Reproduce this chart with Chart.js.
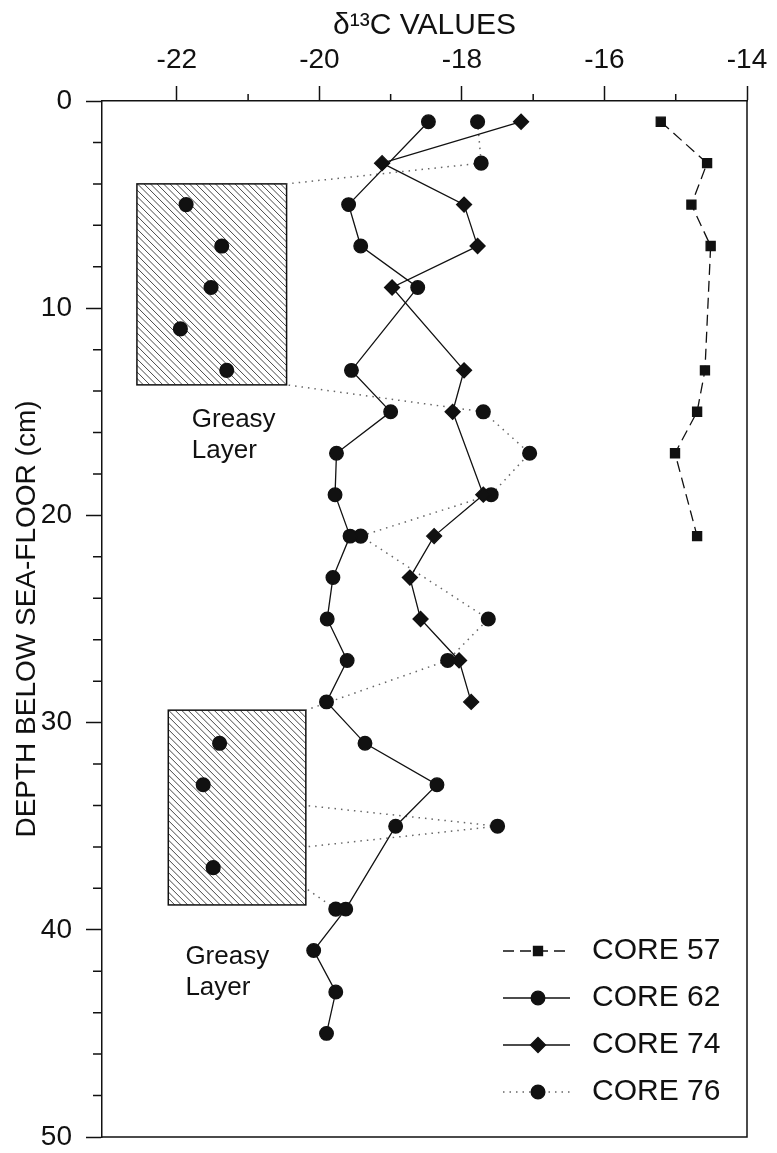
<!DOCTYPE html>
<html>
<head>
<meta charset="utf-8">
<script src="https://cdn.jsdelivr.net/npm/chart.js@4.4.1/dist/chart.umd.min.js"></script>
<style>
  html, body { margin: 0; padding: 0; background: #fff; }
  #wrap { width: 777px; height: 1153px; }
</style>
</head>
<body>
<div id="wrap"><canvas id="myChart" width="777" height="1153"></canvas></div>
<script>
// depth (cm) and delta13C readings for each core
const depths57 = [1, 3, 5, 7, 13, 15, 17, 21];
const core57 = [-15.21, -14.56, -14.78, -14.51, -14.59, -14.70, -15.01, -14.70];

const depths62 = [1, 5, 7, 9, 13, 15, 17, 19, 21, 23, 25, 27, 29, 31, 33, 35, 39, 41, 43, 45];
const core62 = [-18.47, -19.59, -19.42, -18.62, -19.55, -19.00, -19.76, -19.78, -19.57, -19.81,
  -19.89, -19.61, -19.90, -19.36, -18.35, -18.93, -19.63, -20.08, -19.77, -19.90];

const depths74 = [1, 3, 5, 7, 9, 13, 15, 19, 21, 23, 25, 27, 29];
const core74 = [-17.17, -19.12, -17.97, -17.78, -18.98, -17.97, -18.13, -17.70, -18.39, -18.73, -18.58, -18.04, -17.87];

const depths76 = [1, 3, 5, 7, 9, 11, 13, 15, 17, 19, 21, 25, 27, 31, 33, 35, 37, 39];
const core76 = [-17.78, -17.73, -21.87, -21.37, -21.52, -21.95, -21.30, -17.70, -17.05, -17.59, -19.42,
  -17.63, -18.20, -21.40, -21.63, -17.50, -21.49, -19.77];

// greasy layer boxes (delta13C range, depth range)
const greasyLeft = [-22.56, -22.12];
const greasyRight = [-20.46, -20.19];
const greasyTop = [4.0, 29.4];
const greasyBottom = [13.7, 38.8];
const greasyText = ['Greasy', 'Layer'];

const xTicks = [-22, -20, -18, -16, -14];
const depthTicks = [0, 10, 20, 30, 40, 50];

const FONT = '"Liberation Sans", Arial, Helvetica, sans-serif';
Chart.defaults.font.family = FONT;
Chart.defaults.color = '#111';

const toPoints = (xs, ys) => xs.map((v, i) => ({ x: v, y: ys[i] }));

const inBox = (p) => {
  for (let i = 0; i < greasyLeft.length; i++) {
    if (p.x >= greasyLeft[i] && p.x <= greasyRight[i] && p.y >= greasyTop[i] && p.y <= greasyBottom[i]) return i;
  }
  return -1;
};

const pts76 = toPoints(core76, depths76);
const greasyIdx = new Set(pts76.map((p, i) => inBox(p) >= 0 ? i : -1).filter(i => i >= 0));

// dotted links from core 76 points to the edge of a greasy box
const buildLinks = () => {
  const out = [];
  pts76.forEach((p, i) => {
    if (greasyIdx.has(i)) return;
    [pts76[i - 1], pts76[i + 1]].forEach(n => {
      if (!n) return;
      const b = inBox(n);
      if (b < 0) return;
      let d = (p.y + n.y) / 2;
      d = Math.min(Math.max(d, greasyTop[b]), greasyBottom[b]);
      out.push(p, { x: greasyRight[b], y: d }, { x: null, y: null });
    });
  });
  return out;
};

const greasyPlugin = {
  id: 'greasy',
  beforeDatasetsDraw(chart, args, opts) {
    const { ctx, scales: { x, y } } = chart;
    greasyLeft.forEach((l, i) => {
      const x0 = x.getPixelForValue(l), x1 = x.getPixelForValue(greasyRight[i]);
      const y0 = y.getPixelForValue(greasyTop[i]), y1 = y.getPixelForValue(greasyBottom[i]);
      const h = y1 - y0;
      ctx.save();
      ctx.fillStyle = '#fff';
      ctx.fillRect(x0, y0, x1 - x0, h);
      ctx.beginPath();
      ctx.rect(x0, y0, x1 - x0, h);
      ctx.clip();
      ctx.strokeStyle = '#333';
      ctx.lineWidth = 0.9;
      ctx.beginPath();
      for (let s = x0 - h; s < x1; s += 6.5) {
        ctx.moveTo(s, y0);
        ctx.lineTo(s + h, y1);
      }
      ctx.stroke();
      ctx.restore();

      ctx.save();
      ctx.strokeStyle = '#111';
      ctx.lineWidth = 1.5;
      ctx.strokeRect(x0, y0, x1 - x0, h);
      ctx.fillStyle = '#111';
      ctx.font = '26px ' + FONT;
      ctx.textAlign = 'left';
      ctx.textBaseline = 'middle';
      const pos = opts.labels[i];
      greasyText.forEach((t, k) => {
        ctx.fillText(t, x.getPixelForValue(pos.x), y.getPixelForValue(pos.y) + k * 31);
      });
      ctx.restore();
    });
  }
};

const minorTicks = {
  id: 'minorTicks',
  afterDraw(chart) {
    const { ctx, scales: { x, y }, chartArea } = chart;
    ctx.save();
    ctx.strokeStyle = '#111';
    ctx.lineWidth = 1.5;
    ctx.beginPath();
    for (let i = 0; i < xTicks.length - 1; i++) {
      const px = x.getPixelForValue((xTicks[i] + xTicks[i + 1]) / 2);
      ctx.moveTo(px, chartArea.top);
      ctx.lineTo(px, chartArea.top - 7);
    }
    for (let d = 0; d <= 50; d += 2) {
      if (depthTicks.includes(d)) continue;
      const py = y.getPixelForValue(d);
      ctx.moveTo(chartArea.left, py);
      ctx.lineTo(chartArea.left - 9, py);
    }
    // right and bottom frame
    ctx.moveTo(chartArea.right, chartArea.top);
    ctx.lineTo(chartArea.right, chartArea.bottom);
    ctx.lineTo(chartArea.left, chartArea.bottom);
    ctx.stroke();
    ctx.restore();
  }
};

const legendBox = {
  id: 'legendBox',
  afterDraw(chart) {
    const { ctx, chartArea } = chart;
    const lx0 = chartArea.right - 244, lx1 = chartArea.right - 177, mx = chartArea.right - 209;
    const tx = chartArea.right - 155;
    let row = 0;
    chart.data.datasets.forEach(ds => {
      if (!ds.label) return;
      const yy = chartArea.bottom - 186 + row * 47;
      row++;
      ctx.save();
      ctx.strokeStyle = ds.borderColor;
      ctx.lineWidth = ds.borderWidth;
      ctx.setLineDash(ds.borderDash || []);
      ctx.beginPath();
      ctx.moveTo(lx0, yy);
      ctx.lineTo(lx1, yy);
      ctx.stroke();
      ctx.setLineDash([]);
      ctx.fillStyle = '#111';
      ctx.strokeStyle = '#111';
      Chart.helpers.drawPoint(ctx, { pointStyle: ds.pointStyle, radius: ds.pointRadius, borderWidth: 1, rotation: 0 }, mx, yy);
      ctx.font = '30px ' + FONT;
      ctx.textAlign = 'left';
      ctx.textBaseline = 'middle';
      ctx.fillText(ds.label, tx, yy);
      ctx.restore();
    });
  }
};

const renderChart = () => {
  var ctx = document.getElementById('myChart').getContext('2d');
  var chart = new Chart(ctx, {
    type: 'scatter',
    data: {
      datasets: [{
        label: 'CORE 57',
        data: toPoints(core57, depths57),
        order: 0,
        showLine: true,
        borderColor: '#111',
        backgroundColor: '#111',
        borderWidth: 1.3,
        borderDash: [11, 6],
        pointStyle: 'rect',
        pointRadius: 6.4,
      }, {
        label: 'CORE 62',
        data: toPoints(core62, depths62),
        order: 2,
        showLine: true,
        borderColor: '#111',
        backgroundColor: '#111',
        borderWidth: 1.3,
        pointStyle: 'circle',
        pointRadius: 6.8,
      }, {
        label: 'CORE 74',
        data: toPoints(core74, depths74),
        order: 1,
        showLine: true,
        borderColor: '#111',
        backgroundColor: '#111',
        borderWidth: 1.3,
        pointStyle: 'rectRot',
        pointRadius: 7.5,
      }, {
        label: 'CORE 76',
        data: pts76,
        order: 3,
        showLine: true,
        borderColor: '#666',
        backgroundColor: '#111',
        pointBorderColor: '#111',
        borderWidth: 1.5,
        borderDash: [1.5, 5],
        pointStyle: 'circle',
        pointRadius: 6.8,
        segment: {
          borderColor: c => (greasyIdx.has(c.p0DataIndex) || greasyIdx.has(c.p1DataIndex)) ? 'rgba(0,0,0,0)' : undefined
        }
      }, {
        label: '',
        data: buildLinks(),
        order: 4,
        showLine: true,
        spanGaps: false,
        borderColor: '#666',
        borderWidth: 1.5,
        borderDash: [1.5, 5],
        pointRadius: 0,
      }]
    },
    options: {
      responsive: false,
      animation: false,
      layout: { padding: { left: 0, top: 0, right: 30, bottom: 16 } },
      plugins: {
        legend: { display: false },
        tooltip: { enabled: false },
        greasy: { labels: [{ x: -21.79, y: 15.4 }, { x: -21.88, y: 41.3 }] }
      },
      scales: {
        x: {
          type: 'linear',
          position: 'top',
          min: -23.05,
          max: -14,
          afterBuildTicks: s => { s.ticks = xTicks.map(v => ({ value: v })); },
          afterFit: s => { s.height = 101; },
          grid: { drawOnChartArea: false, tickLength: 15, tickColor: '#111', tickWidth: 1.5 },
          border: { color: '#111', width: 1.5 },
          ticks: { font: { size: 28 }, padding: 9, maxRotation: 0, color: '#111' },
          title: { display: true, text: 'δ¹³C VALUES', font: { size: 30 }, color: '#111', padding: { top: 8, bottom: 0 } }
        },
        y: {
          type: 'linear',
          reverse: true,
          min: 0,
          max: 50,
          afterBuildTicks: s => { s.ticks = depthTicks.map(v => ({ value: v })); },
          afterFit: s => { s.width = 102; s.paddingTop = 0; s.paddingBottom = 0; },
          grid: { drawOnChartArea: false, tickLength: 16, tickColor: '#111', tickWidth: 1.5 },
          border: { color: '#111', width: 1.5 },
          ticks: { font: { size: 28 }, padding: 14, color: '#111' },
          title: { display: true, text: 'DEPTH BELOW SEA-FLOOR (cm)', font: { size: 28 }, color: '#111', padding: { top: 10, bottom: 0 } }
        }
      }
    },
    plugins: [greasyPlugin, minorTicks, legendBox]
  });
};

renderChart();
</script>
</body>
</html>
